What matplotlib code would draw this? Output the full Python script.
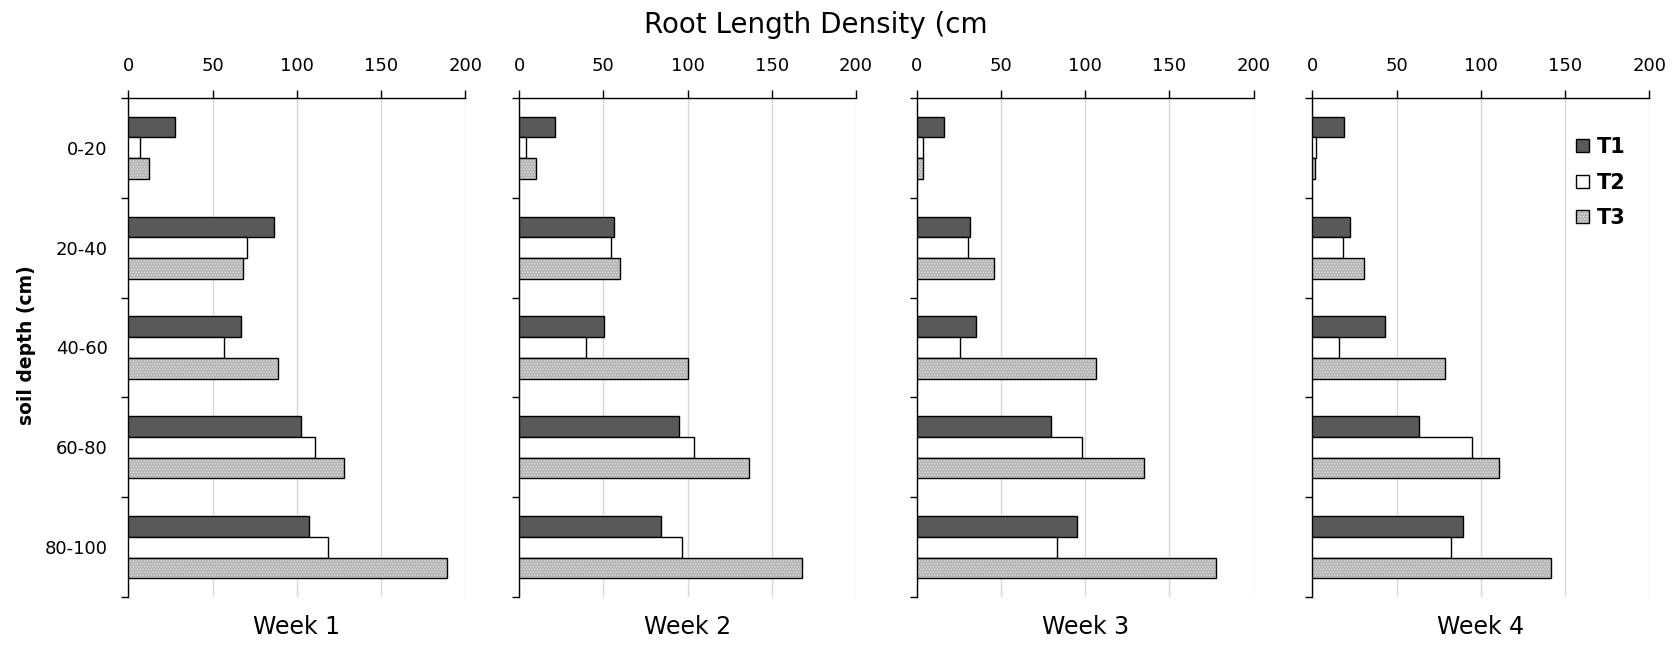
import matplotlib
matplotlib.use("Agg")
import matplotlib.pyplot as plt
from matplotlib.patches import Patch
import numpy as np

depth_labels = ["0-20", "20-40", "40-60", "60-80", "80-100"]
week_labels = ["Week 1", "Week 2", "Week 3", "Week 4"]
treatments = ["T1", "T2", "T3"]

week1_t1 = [28, 86.5, 67, 102.5, 107]
week1_t2 = [7, 70.5, 57, 111, 118.5]
week1_t3 = [12, 68, 89, 128, 189]

week2_t1 = [21.5, 56.5, 50.5, 95, 84]
week2_t2 = [4, 54.5, 40, 104, 96.5]
week2_t3 = [10, 60, 100, 136.5, 168]

week3_t1 = [16, 31.5, 35.5, 80, 95]
week3_t2 = [4, 30.5, 26, 98, 83.5]
week3_t3 = [4, 46, 106.5, 135, 177.5]

week4_t1 = [19, 22.5, 43, 63.5, 89.5]
week4_t2 = [2.5, 18, 16, 95, 82.5]
week4_t3 = [1.5, 31, 79, 111, 141.5]

x_ticks = [0, 50, 100, 150, 200]

weeks = [
    (week1_t1, week1_t2, week1_t3),
    (week2_t1, week2_t2, week2_t3),
    (week3_t1, week3_t2, week3_t3),
    (week4_t1, week4_t2, week4_t3),
]

T1_COLOR = "#595959"
T2_COLOR = "#ffffff"
T3_COLOR = "#b4b4b4"
STIPPLE = "......"

plt.rcParams["font.family"] = "DejaVu Sans"
plt.rcParams["hatch.color"] = "#e2e2e2"
plt.rcParams["hatch.linewidth"] = 0.7

BAR_H = 0.207


def draw_week(ax, t1, t2, t3, label, show_depths):
    y = np.arange(len(depth_labels))
    ax.barh(y - BAR_H, t1, height=BAR_H, color=T1_COLOR, edgecolor="black", linewidth=1.0, zorder=3)
    ax.barh(y, t2, height=BAR_H, color=T2_COLOR, edgecolor="black", linewidth=1.0, zorder=3)
    # stippled fill first, then the black outline on top
    ax.barh(y + BAR_H, t3, height=BAR_H, color=T3_COLOR, hatch=STIPPLE, linewidth=0, zorder=3)
    ax.barh(y + BAR_H, t3, height=BAR_H, facecolor="none", edgecolor="black", linewidth=1.0, zorder=4)

    ax.set_xlim(0, 200)
    ax.set_ylim(len(depth_labels) - 0.5, -0.5)
    ax.xaxis.tick_top()
    ax.set_xticks(x_ticks)
    ax.tick_params(axis="x", direction="out", length=6, width=1, pad=10, labelsize=13)
    ax.grid(axis="x", color="#d9d9d9", linewidth=1.0)
    ax.set_axisbelow(True)

    ax.set_yticks(y)
    ax.set_yticks(np.arange(-0.5, len(depth_labels)), minor=True)
    ax.tick_params(axis="y", which="major", length=0, pad=15, labelsize=13)
    ax.tick_params(axis="y", which="minor", direction="out", length=5, width=1)
    if show_depths:
        ax.set_yticklabels(depth_labels)
    else:
        ax.set_yticklabels([])

    for side in ["right", "bottom"]:
        ax.spines[side].set_visible(False)
    ax.spines["top"].set_linewidth(1.0)
    ax.spines["left"].set_linewidth(1.0)

    ax.text(0.5, -0.06, label, transform=ax.transAxes, ha="center", va="center", fontsize=17)


fig = plt.figure(figsize=(16.77, 6.46), dpi=100)

lefts = [0.0765, 0.3095, 0.5466, 0.7825]
width = 0.201
bottom = 0.0754
height = 0.7734

axes = []
for i, (t1, t2, t3) in enumerate(weeks):
    ax = fig.add_axes([lefts[i], bottom, width, height])
    draw_week(ax, t1, t2, t3, week_labels[i], show_depths=(i == 0))
    axes.append(ax)

handles = [
    Patch(facecolor=T1_COLOR, edgecolor="black", linewidth=1.0),
    Patch(facecolor=T2_COLOR, edgecolor="black", linewidth=1.0),
    (Patch(facecolor=T3_COLOR, hatch=STIPPLE, linewidth=0),
     Patch(facecolor="none", edgecolor="black", linewidth=1.0)),
]
axes[3].legend(
    handles, treatments,
    loc="upper left", bbox_to_anchor=(0.9398, 0.788), bbox_transform=fig.transFigure,
    frameon=False, prop={"weight": "bold", "size": 15},
    handlelength=0.6, handleheight=0.6, handletextpad=0.38,
    labelspacing=0.75, borderpad=0, borderaxespad=0,
)

fig.text(0.4863, 0.961, "Root Length Density (cm", ha="center", va="center", fontsize=20)
fig.text(0.016, 0.466, "soil depth (cm)", rotation=90, ha="center", va="center",
         fontsize=13.5, fontweight="bold")

fig.savefig("out.png", dpi=100)
plt.close(fig)
